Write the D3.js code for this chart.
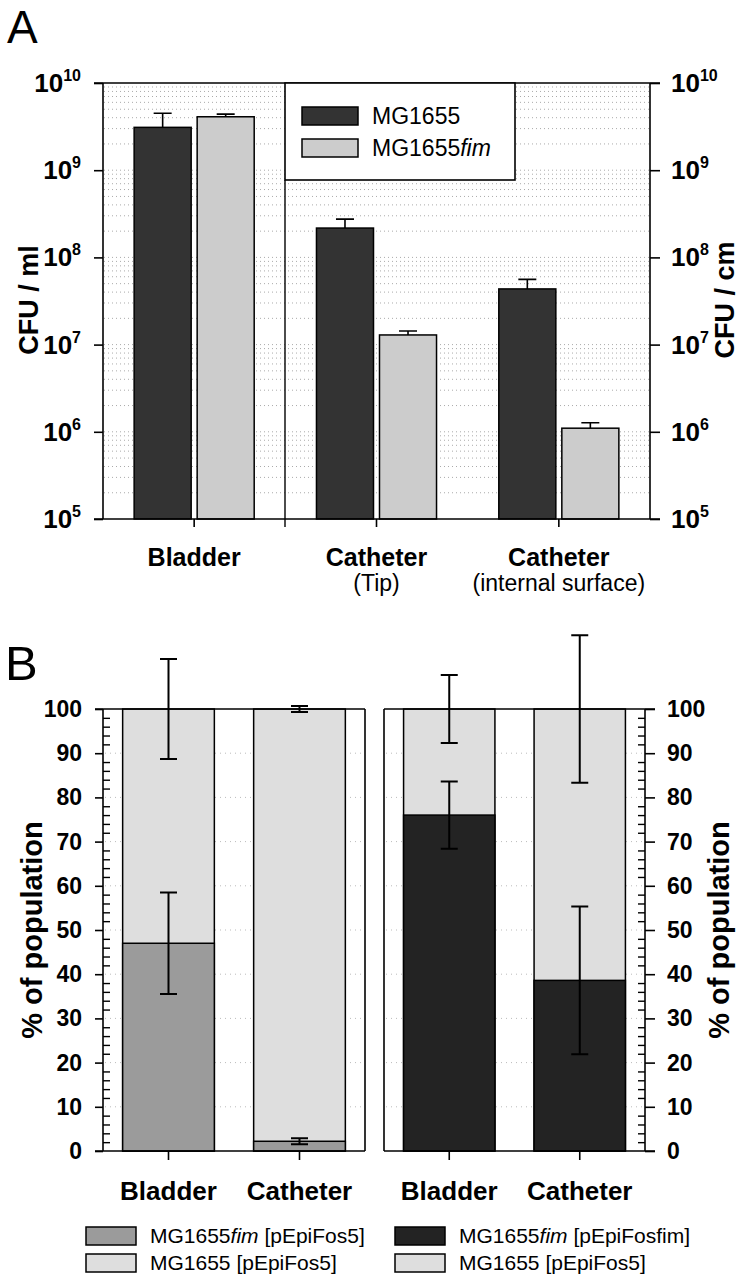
<!DOCTYPE html>
<html><head><meta charset="utf-8">
<script src="https://cdn.jsdelivr.net/npm/d3@7"></script>
<style>
body{margin:0;background:#fff}
svg{display:block}
text{font-family:"Liberation Sans",Arial,Helvetica,sans-serif;fill:#000}
</style></head><body>
<svg id="c" width="742" height="1277"></svg>
<script>
// ---------- Panel A data ----------
const categoriesA = ["Bladder", "Catheter (Tip)", "Catheter (internal surface)"];
const categoryLinesA = [["Bladder"], ["Catheter", "(Tip)"], ["Catheter", "(internal surface)"]];
const seriesA = ["MG1655", "MG1655fim"];
const valuesMG1655 = [3.1e9, 2.17e8, 4.35e7];
const errorsMG1655 = [1.4e9, 0.58e8, 1.25e7];
const valuesMG1655fim = [4.1e9, 1.29e7, 1.1e6];
const errorsMG1655fim = [0.3e9, 0.14e7, 0.17e6];
const decadeTicksA = [1e5, 1e6, 1e7, 1e8, 1e9, 1e10];
const decadeExponents = ["5", "6", "7", "8", "9", "10"];

// ---------- Panel B data ----------
const categoriesB = ["Bladder", "Catheter"];
// left chart: MG1655fim [pEpiFos5] (lower) vs MG1655 [pEpiFos5] (upper)
const leftLower = [47, 2.2];
const leftLowerErr = [11.5, 0.7];
const leftUpperErr = [11.3, 0.7];
// right chart: MG1655fim [pEpiFosfim] (lower) vs MG1655 [pEpiFos5] (upper)
const rightLower = [76, 38.6];
const rightLowerErr = [7.6, 16.7];
const rightUpperErr = [7.7, 16.7];
const ticksB = [0, 10, 20, 30, 40, 50, 60, 70, 80, 90, 100];
const minorTicksB = d3.range(2, 100, 2).filter(v => v % 10 !== 0);

const svg = d3.select("#c");

// ================= PANEL A =================
const colA = {MG1655: "#333333", MG1655fim: "#cccccc"};
const yA = d3.scaleLog().domain([1e5, 1e10]).range([519, 83]);
const xA = d3.scaleBand().domain(categoriesA).range([103, 650]).padding(0);
const xSubA = d3.scaleBand().domain(seriesA).range([0, xA.bandwidth()]).paddingInner(0.095).paddingOuter(0.494);

svg.append("text").attr("x", 7).attr("y", 43).attr("font-size", 46).text("A");

// grid
const gridA = [];
for (let e = 5; e <= 9; e++) for (let k = 1; k <= 9; k++) { if (!(e === 5 && k === 1)) gridA.push(k * Math.pow(10, e)); }
svg.append("g").selectAll("line").data(gridA).join("line")
  .attr("x1", 104).attr("x2", 649)
  .attr("y1", d => yA(d)).attr("y2", d => yA(d))
  .attr("stroke", "#aaa").attr("stroke-width", 1).attr("stroke-dasharray", "1,3");

// bars
const barDataA = [];
categoriesA.forEach((c, i) => {
  barDataA.push({c, s: "MG1655", v: valuesMG1655[i], e: errorsMG1655[i]});
  barDataA.push({c, s: "MG1655fim", v: valuesMG1655fim[i], e: errorsMG1655fim[i]});
});
const gA = svg.append("g");
gA.selectAll("rect").data(barDataA).join("rect")
  .attr("x", d => xA(d.c) + xSubA(d.s))
  .attr("width", xSubA.bandwidth())
  .attr("y", d => yA(d.v))
  .attr("height", d => yA(1e5) - yA(d.v))
  .attr("fill", d => colA[d.s]).attr("stroke", "#000").attr("stroke-width", 1.5);
gA.selectAll("path.err").data(barDataA).join("path").attr("class", "err")
  .attr("d", d => {
    const cx = xA(d.c) + xSubA(d.s) + xSubA.bandwidth() / 2;
    const y0 = yA(d.v), y1 = yA(d.v + d.e);
    return `M${cx},${y0}V${y1}M${cx - 9},${y1}H${cx + 9}`;
  })
  .attr("stroke", "#000").attr("stroke-width", 1.6).attr("fill", "none");

// frame
const frameA = svg.append("g").attr("stroke", "#000").attr("stroke-width", 1.6);
frameA.append("line").attr("x1", 94).attr("x2", 660).attr("y1", yA(1e10)).attr("y2", yA(1e10));
frameA.append("line").attr("x1", 94).attr("x2", 660).attr("y1", yA(1e5)).attr("y2", yA(1e5));
frameA.append("line").attr("x1", 103).attr("x2", 103).attr("y1", yA(1e10)).attr("y2", yA(1e5));
frameA.append("line").attr("x1", 650).attr("x2", 650).attr("y1", yA(1e10)).attr("y2", yA(1e5));

const axLA = svg.append("g").attr("transform", "translate(103,0)")
  .call(d3.axisLeft(yA).tickValues(decadeTicksA).tickSize(9).tickSizeOuter(0).tickFormat(""));
axLA.select(".domain").remove();
axLA.selectAll("line").attr("stroke-width", 1.6);
const axRA = svg.append("g").attr("transform", "translate(650,0)")
  .call(d3.axisRight(yA).tickValues(decadeTicksA).tickSize(10).tickSizeOuter(0).tickFormat(""));
axRA.select(".domain").remove();
axRA.selectAll("line").attr("stroke-width", 1.6);
const axBA = svg.append("g").attr("transform", "translate(0,519)")
  .call(d3.axisBottom(xA).tickSize(8).tickSizeOuter(0).tickFormat(""));
axBA.select(".domain").remove();
axBA.selectAll("line").attr("stroke-width", 1.6);

function powLabel(g, x, y, exp, anchor) {
  const t = g.append("text").attr("x", x).attr("y", y).attr("text-anchor", anchor)
    .attr("font-weight", "bold").attr("font-size", 26);
  t.append("tspan").text("10");
  t.append("tspan").attr("dy", -11).attr("font-size", 16).text(exp);
}
decadeTicksA.forEach((v, i) => {
  powLabel(svg, 81, yA(v) + 9, decadeExponents[i], "end");
  powLabel(svg, 671, yA(v) + 9, decadeExponents[i], "start");
});

categoriesA.forEach((c, i) => {
  const cx = xA(c) + xA.bandwidth() / 2;
  const lines = categoryLinesA[i];
  svg.append("text").attr("x", cx).attr("y", 566).attr("text-anchor", "middle")
    .attr("font-weight", "bold").attr("font-size", 25).text(lines[0]);
  if (lines[1]) svg.append("text").attr("x", cx).attr("y", 591).attr("text-anchor", "middle")
    .attr("font-size", 23).text(lines[1]);
});

svg.append("text").attr("transform", "translate(38,300) rotate(-90)").attr("text-anchor", "middle")
  .attr("font-weight", "bold").attr("font-size", 27).text("CFU / ml");
svg.append("text").attr("transform", "translate(734,300) rotate(-90)").attr("text-anchor", "middle")
  .attr("font-weight", "bold").attr("font-size", 27).text("CFU / cm");

// legend A
const legA = svg.append("g");
legA.append("line").attr("x1", 285).attr("x2", 285).attr("y1", 180).attr("y2", 527).attr("stroke", "#000").attr("stroke-width", 1.4);
legA.append("rect").attr("x", 285).attr("y", 83).attr("width", 230).attr("height", 97)
  .attr("fill", "#fff").attr("stroke", "#000").attr("stroke-width", 1.6);
seriesA.forEach((s, i) => {
  legA.append("rect").attr("x", 302).attr("y", 107 + i * 32).attr("width", 56).attr("height", 18)
    .attr("fill", colA[s]).attr("stroke", "#000").attr("stroke-width", 1.5);
  const t = legA.append("text").attr("x", 372).attr("y", 124 + i * 32).attr("font-size", 23);
  if (s === "MG1655fim") { t.append("tspan").text("MG1655"); t.append("tspan").attr("font-style", "italic").text("fim"); }
  else t.text(s);
});

// ================= PANEL B =================
const colB = {gray: "#9b9b9b", light: "#dedede", dark: "#232323"};
svg.append("text").attr("x", 5).attr("y", 680).attr("font-size", 49).text("B");
const yB = d3.scaleLinear().domain([0, 100]).range([1151, 709]);

function drawStack(x0, x1, lower, lowerErr, upperErr, lowerColor, side) {
  const xB = d3.scaleBand().domain(categoriesB).range([x0, x1]).paddingInner(0.3).paddingOuter(0.15);
  const g = svg.append("g");
  g.selectAll("line.grid").data(ticksB.slice(1, -1)).join("line").attr("class", "grid")
    .attr("x1", x0 + 2).attr("x2", x1 - 2).attr("y1", d => yB(d)).attr("y2", d => yB(d))
    .attr("stroke", "#bbb").attr("stroke-dasharray", "1,4");
  g.selectAll("rect.up").data(categoriesB).join("rect").attr("class", "up")
    .attr("x", d => xB(d)).attr("width", xB.bandwidth())
    .attr("y", yB(100)).attr("height", yB(0) - yB(100))
    .attr("fill", colB.light).attr("stroke", "#000").attr("stroke-width", 1.5);
  g.selectAll("rect.low").data(categoriesB).join("rect").attr("class", "low")
    .attr("x", d => xB(d)).attr("width", xB.bandwidth())
    .attr("y", (d, i) => yB(lower[i])).attr("height", (d, i) => yB(0) - yB(lower[i]))
    .attr("fill", lowerColor).attr("stroke", "#000").attr("stroke-width", 1.5);
  const errs = [];
  categoriesB.forEach((c, i) => {
    errs.push({c, v: lower[i], e: lowerErr[i]});
    errs.push({c, v: 100, e: upperErr[i]});
  });
  g.selectAll("path.err").data(errs).join("path").attr("class", "err")
    .attr("d", d => {
      const cx = xB(d.c) + xB.bandwidth() / 2;
      const a = yB(d.v - d.e), b = yB(d.v + d.e);
      return `M${cx},${a}V${b}M${cx - 8.5},${a}H${cx + 8.5}M${cx - 8.5},${b}H${cx + 8.5}`;
    }).attr("stroke", "#000").attr("stroke-width", 2).attr("fill", "none");
  const f = g.append("g").attr("stroke", "#000").attr("stroke-width", 1.6);
  const axX = side === "left" ? x0 : x1;
  const outX = side === "left" ? x0 - 8 : x1 + 10;
  f.append("line").attr("x1", Math.min(x0, outX)).attr("x2", Math.max(x1, outX)).attr("y1", yB(100)).attr("y2", yB(100));
  f.append("line").attr("x1", Math.min(x0, outX)).attr("x2", Math.max(x1, outX)).attr("y1", yB(0)).attr("y2", yB(0));
  f.append("line").attr("x1", x0).attr("x2", x0).attr("y1", yB(100)).attr("y2", yB(0));
  f.append("line").attr("x1", x1).attr("x2", x1).attr("y1", yB(100)).attr("y2", yB(0));
  const ax = side === "left" ? d3.axisLeft(yB) : d3.axisRight(yB);
  const major = g.append("g").attr("transform", `translate(${axX},0)`)
    .call(ax.tickValues(ticksB).tickSize(side === "left" ? 8 : 10).tickSizeOuter(0).tickFormat(""));
  major.select(".domain").remove();
  major.selectAll("line").attr("stroke-width", 1.6);
  const ax2 = side === "left" ? d3.axisLeft(yB) : d3.axisRight(yB);
  const minor = g.append("g").attr("transform", `translate(${axX},0)`)
    .call(ax2.tickValues(minorTicksB).tickSize(-7).tickSizeOuter(0).tickFormat(""));
  minor.select(".domain").remove();
  minor.selectAll("line").attr("stroke-width", 1.4);
  g.selectAll("text.tl").data(ticksB).join("text").attr("class", "tl")
    .attr("x", side === "left" ? 82 : 667).attr("y", d => yB(d) + 8)
    .attr("text-anchor", side === "left" ? "end" : "start")
    .attr("font-weight", "bold").attr("font-size", 23).text(d => d);
  const bx = g.append("g").attr("transform", `translate(0,${yB(0)})`)
    .call(d3.axisBottom(xB).tickSize(9).tickSizeOuter(0).tickFormat(""));
  bx.select(".domain").remove();
  bx.selectAll("line").attr("stroke-width", 1.6);
  g.selectAll("text.cat").data(categoriesB).join("text").attr("class", "cat")
    .attr("x", d => xB(d) + xB.bandwidth() / 2).attr("y", 1200).attr("text-anchor", "middle")
    .attr("font-weight", "bold").attr("font-size", 26).text(d => d);
}
drawStack(103, 365, leftLower, leftLowerErr, leftUpperErr, colB.gray, "left");
drawStack(384, 645, rightLower, rightLowerErr, rightUpperErr, colB.dark, "right");

svg.append("text").attr("transform", "translate(42,930) rotate(-90)").attr("text-anchor", "middle")
  .attr("font-weight", "bold").attr("font-size", 29).text("% of population");
svg.append("text").attr("transform", "translate(729,930) rotate(-90)").attr("text-anchor", "middle")
  .attr("font-weight", "bold").attr("font-size", 29).text("% of population");

// legend B
const legendB = [
  {x: 86, y: 1227, fill: colB.gray, main: "MG1655", ital: "fim", rest: " [pEpiFos5]"},
  {x: 86, y: 1254, fill: colB.light, main: "MG1655", ital: "", rest: " [pEpiFos5]"},
  {x: 395, y: 1227, fill: colB.dark, main: "MG1655", ital: "fim", rest: " [pEpiFosfim]"},
  {x: 395, y: 1254, fill: colB.light, main: "MG1655", ital: "", rest: " [pEpiFos5]"}
];
const lg = svg.append("g");
legendB.forEach(d => {
  lg.append("rect").attr("x", d.x).attr("y", d.y).attr("width", 50).attr("height", 18)
    .attr("fill", d.fill).attr("stroke", "#000").attr("stroke-width", 1.5);
  const t = lg.append("text").attr("x", d.x + 64).attr("y", d.y + 16).attr("font-size", 21);
  t.append("tspan").text(d.main);
  if (d.ital) t.append("tspan").attr("font-style", "italic").text(d.ital);
  t.append("tspan").text(d.rest);
});
</script></body></html>
